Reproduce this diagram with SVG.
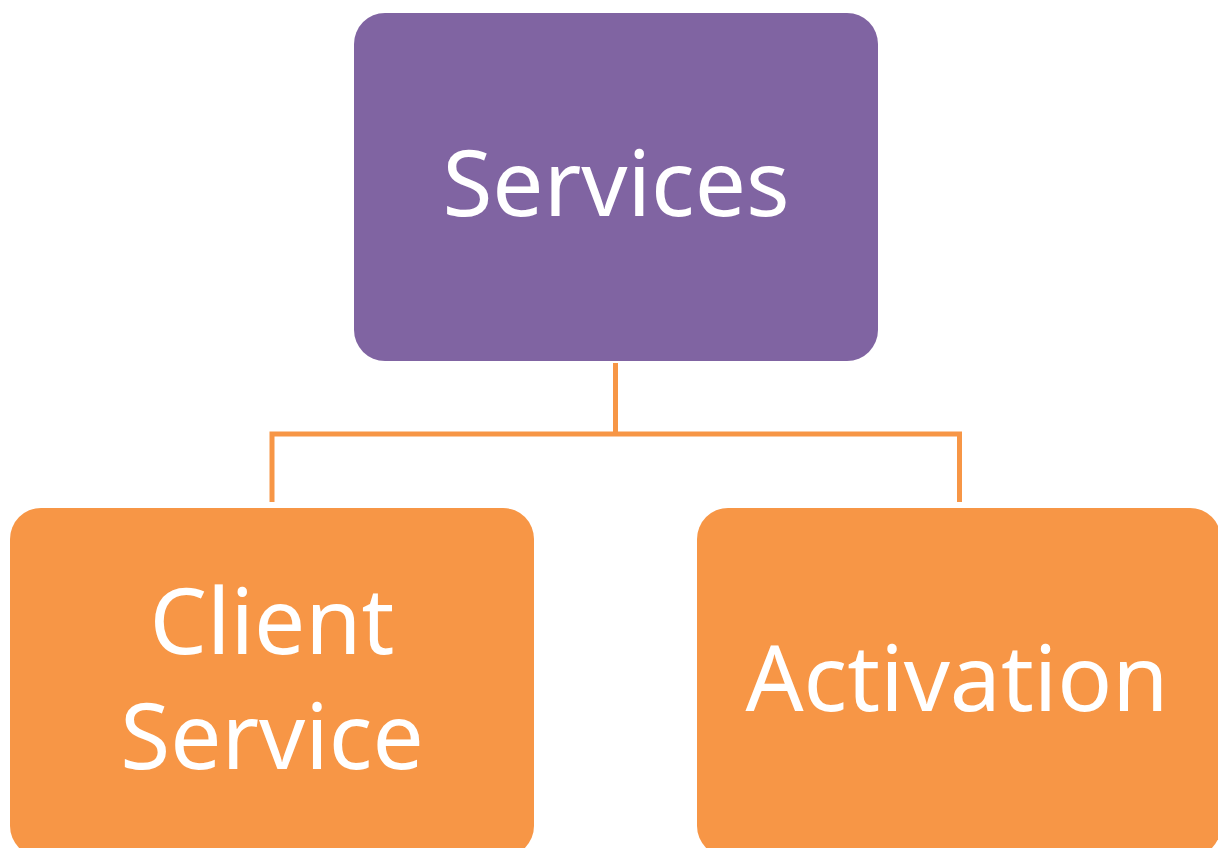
<svg xmlns="http://www.w3.org/2000/svg" width="1218" height="848" viewBox="0 0 1218 848">
  <style>
    .box-top { fill: #8064A2; }
    .box-child { fill: #F79646; }
    .label { fill: #FFFFFF; font-family: "Noto Sans", "Open Sans", "Liberation Sans", sans-serif; font-size: 91px; text-anchor: middle; }
    .link { fill: none; stroke: #F79646; stroke-width: 5; stroke-linejoin: miter; }
  </style>
  <rect width="1218" height="848" fill="#FFFFFF"/>

  <g id="connectors">
    <path class="link" d="M615.5 363 V434"/>
    <path class="link" d="M272 502 V434 H959.5 V502"/>
  </g>

  <g id="node-services">
    <rect class="box-top" x="354" y="13" width="524" height="348" rx="31" ry="31"/>
    <text class="label" x="616" y="216">Services</text>
  </g>

  <g id="node-client-service">
    <rect class="box-child" x="10" y="508" width="524" height="349" rx="31" ry="31"/>
    <text class="label" x="272" y="654">Client</text>
    <text class="label" x="272" y="769">Service</text>
  </g>

  <g id="node-activation">
    <rect class="box-child" x="697" y="508" width="524" height="349" rx="31" ry="31"/>
    <text class="label" x="957" y="711">Activation</text>
  </g>
</svg>
